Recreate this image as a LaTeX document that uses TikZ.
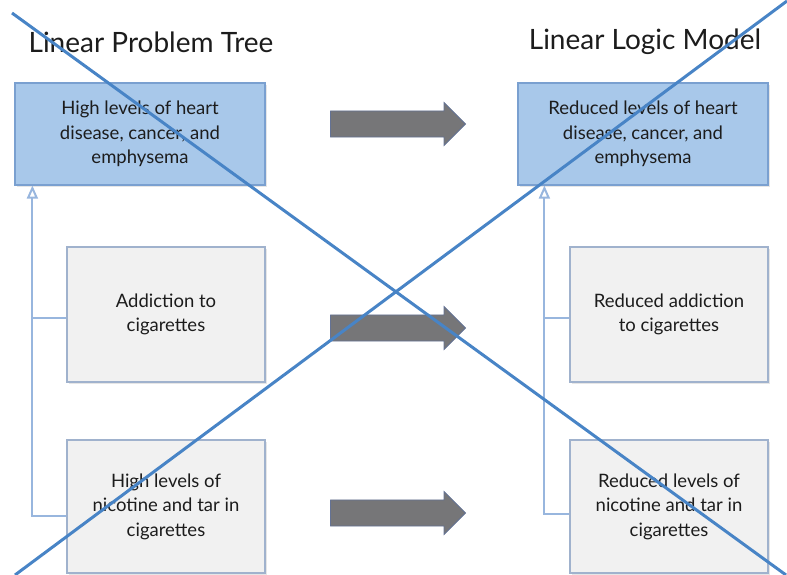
\documentclass[tikz,border=0pt]{standalone}
\usepackage{fontspec}
\setmainfont{Lato}
\usetikzlibrary{positioning,shapes.arrows,arrows.meta,shadows}

\definecolor{hiblue}{RGB}{168,200,234}
\definecolor{hiedge}{RGB}{122,160,208}
\definecolor{lowfill}{RGB}{241,241,241}
\definecolor{lowedge}{RGB}{160,178,205}
\definecolor{linkblue}{RGB}{152,182,222}
\definecolor{crossblue}{RGB}{72,132,198}
\definecolor{arrowgray}{RGB}{118,118,120}
\definecolor{arrowedge}{RGB}{100,114,148}
\definecolor{inktext}{RGB}{28,28,28}

\tikzset{
	card/.style={draw=lowedge, line width=1.2pt, fill=lowfill, align=center,
		text=inktext, font=\fontsize{18.5}{24.5}\selectfont, inner sep=0pt,
		minimum width=198pt, minimum height=135pt,
		drop shadow={opacity=0.2, shadow xshift=1.5pt, shadow yshift=-2pt}},
	topcard/.style={card, fill=hiblue, draw=hiedge, minimum width=250pt, minimum height=102pt},
	heading/.style={font=\fontsize{28}{34}\selectfont, text=inktext},
	shiftarrow/.style={single arrow, fill=arrowgray, draw=arrowedge, line width=0.8pt,
		minimum height=135pt, minimum width=43pt, inner xsep=0pt, inner ysep=10.5pt},
	link/.style={draw=linkblue, line width=2pt},
	cross/.style={draw=crossblue, line width=3pt}
}

\begin{document}
\begin{tikzpicture}[x=1pt,y=-1pt]
	\useasboundingbox (0,0) rectangle (787,575);
	% headings
	\node[heading] (ptitle) at (151,42) {Linear Problem Tree};
	\node[heading] (ltitle) at (645,42) {Linear Logic Model};
	% problem tree
	\node[topcard] (pt) at (140,134) {High levels of heart\\disease, cancer, and\\emphysema};
	\node[card] (pm) at (166,314.5) {Addiction to\\cigarettes};
	\node[card, minimum height=133pt] (pb) at (166,506.5) {High levels of\\nicotine and tar in\\cigarettes};
	% logic model
	\node[topcard] (lt) at (643,134) {Reduced levels of heart\\disease, cancer, and\\emphysema};
	\node[card] (lm) at (669,314.5) {Reduced addiction\\to cigarettes};
	\node[card, minimum height=133pt] (lb) at (669,506.5) {Reduced levels of\\nicotine and tar in\\cigarettes};
	% big arrows
	\node[shiftarrow] (a1) at (391.5,124) {};
	\node[shiftarrow] (a2) at (391.5,328) {};
	\node[shiftarrow] (a3) at (391.5,513) {};
	% links
	\coordinate (ptrunk) at ([xshift=18pt]pt.south west);
	\coordinate (ltrunk) at ([xshift=27pt]lt.south west);
	\draw[link,-{Triangle[open,length=13pt,width=11pt]}] ([yshift=-9pt]pb.west) -| (ptrunk);
	\draw[link] ([yshift=-3pt]pm.west) -- ([yshift=-3pt]pm.west -| ptrunk);
	\draw[link,-{Triangle[open,length=13pt,width=11pt]}] ([yshift=-7pt]lb.west) -| (ltrunk);
	\draw[link] ([yshift=-3pt]lm.west) -- ([yshift=-3pt]lm.west -| ltrunk);
	% crossing out
	\coordinate (c1) at (12,13);
	\coordinate (c2) at (786,575);
	\coordinate (c3) at (15,575);
	\coordinate (c4) at (787,1);
	\draw[cross] (c1) -- (c2);
	\draw[cross] (c3) -- (c4);
\end{tikzpicture}
\end{document}
